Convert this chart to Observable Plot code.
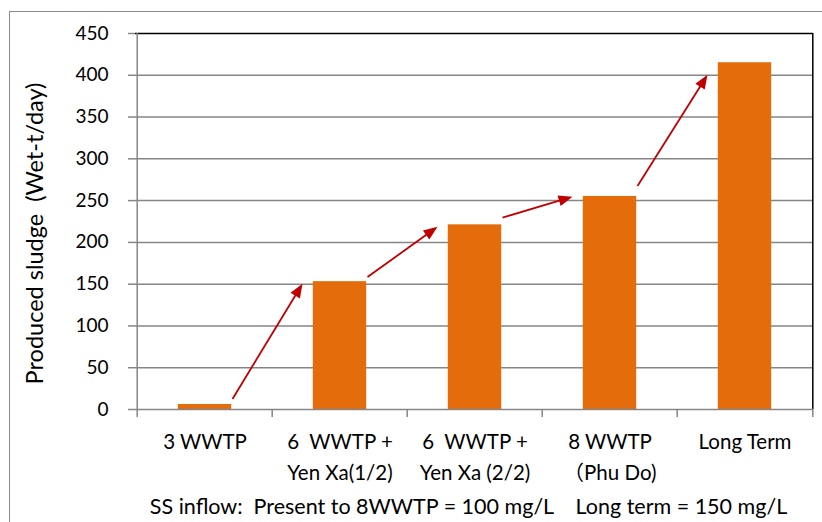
<!DOCTYPE html>
<html>
<head>
<meta charset="utf-8">
<script src="https://cdn.jsdelivr.net/npm/d3@7"></script>
<script src="https://cdn.jsdelivr.net/npm/@observablehq/plot@0.6"></script>
<style>
  html, body { margin: 0; padding: 0; background: #fff; }
  #chart { position: relative; width: 822px; height: 522px; overflow: hidden; }
  #border { position: absolute; left: 9px; top: 11px; width: 900px; height: 600px; border: 1px solid #8a8a8a; }
  #chart svg { position: absolute; left: 0; top: 0; }
</style>
</head>
<body>
<div id="chart"><div id="border"></div></div>
<script>
// Sludge production by treatment scenario
const scenarios = ["3 WWTP", "6  WWTP +\nYen Xa(1/2)", "6  WWTP +\nYen Xa (2/2)", "8 WWTP\n（Phu Do)", "Long Term"];
const sludge = [6, 153, 221, 255, 415];
const yTicks = [0, 50, 100, 150, 200, 250, 300, 350, 400, 450];

// growth arrows from each scenario to the next (start / end level)
const arrowFrom = [12, 158, 229, 267];
const arrowTo = [150, 218, 254, 400];

const yTitle = "Produced sludge  (Wet-t/day)";
const note = "SS inflow:  Present to 8WWTP = 100 mg/L    Long term = 150 mg/L";

const font = "Lato, Carlito, 'Noto Sans CJK JP', sans-serif";
const gray = "#868686";
const orange = "#E46C0A";
const red = "#C00000";

const W = 822, H = 522;
const mL = 135, mR = 9, mT = 33, mB = 113;
const bw = (W - mL - mR) / scenarios.length;   // band width
const plotH = H - mT - mB;
const barW = 54;

const rows = scenarios.map((s, i) => ({scenario: s, value: sludge[i]}));
const steps = arrowFrom.map((v, i) => ({from: scenarios[i], to: scenarios[i + 1], v1: v, v2: arrowTo[i]}));

function drawArrows(index, scales, values) {
  const half = scales.x.bandwidth() / 2;
  const g = d3.create("svg:g");
  for (const i of index) {
    const x1 = values.x1[i] + half + barW / 2 + 1, y1 = values.y1[i];
    const x2 = values.x2[i] + half - barW / 2 - 10, y2 = values.y2[i];
    const a = Math.atan2(y2 - y1, x2 - x1);
    const L = 14, hw = 5.5;
    const bx = x2 - L * Math.cos(a), by = y2 - L * Math.sin(a);
    g.append("line")
      .attr("x1", x1).attr("y1", y1).attr("x2", bx + 2 * Math.cos(a)).attr("y2", by + 2 * Math.sin(a))
      .attr("stroke", red).attr("stroke-width", 1.8);
    g.append("path")
      .attr("d", `M${x2},${y2}L${bx + hw * Math.sin(a)},${by - hw * Math.cos(a)}L${bx - hw * Math.sin(a)},${by + hw * Math.cos(a)}Z`)
      .attr("fill", red);
  }
  return g.node();
}

const chart = Plot.plot({
  width: W,
  height: H,
  marginLeft: mL,
  marginRight: mR,
  marginTop: mT,
  marginBottom: mB,
  style: {fontFamily: font, background: "transparent", color: "#000"},
  x: {domain: scenarios, padding: 0, label: null},
  y: {domain: [0, 450], label: null},
  marks: [
    // gridlines
    Plot.ruleY(yTicks.slice(1, -1), {stroke: gray, strokeWidth: 1.5}),
    // bars
    Plot.barY(rows, {x: "scenario", y: "value", fill: orange, insetLeft: (bw - barW) / 2, insetRight: (bw - barW) / 2}),
    // plot area edges: top and right in black
    Plot.ruleY([450], {stroke: "#000", strokeWidth: 1.5}),
    Plot.ruleX([scenarios[scenarios.length - 1]], {dx: bw / 2, stroke: "#000", strokeWidth: 1.5}),
    // value axis line and category axis line
    Plot.ruleX([scenarios[0]], {dx: -bw / 2, stroke: gray, strokeWidth: 1.5, insetBottom: -8}),
    Plot.ruleY([0], {stroke: gray, strokeWidth: 1.5}),
    // category boundary ticks
    Plot.ruleX(scenarios.slice(1), {dx: -bw / 2, stroke: gray, strokeWidth: 1.5, insetTop: plotH, insetBottom: -8}),
    Plot.ruleX([scenarios[scenarios.length - 1]], {dx: bw / 2, stroke: gray, strokeWidth: 1.5, insetTop: plotH, insetBottom: -8}),
    // axes
    Plot.axisY({ticks: yTicks, tickSize: 7, tickPadding: 20, fontSize: 19, stroke: gray, strokeWidth: 1.5, label: null}),
    Plot.axisX({tickSize: 0, tickPadding: 18, fontSize: 20.5, lineHeight: 1.5, label: null}),
    // growth arrows
    Plot.link(steps, {x1: "from", y1: "v1", x2: "to", y2: "v2", stroke: red, render: drawArrows}),
    // axis title and note
    Plot.text([yTitle], {frameAnchor: "left", textAnchor: "middle", rotate: -90, dx: -100, dy: 12, fontSize: 23.5, fill: "#000"}),
    Plot.text([note], {frameAnchor: "bottom", dx: -6, dy: 104, fontSize: 21.5, fill: "#000"})
  ]
});

document.getElementById("chart").appendChild(chart);
</script>
</body>
</html>
